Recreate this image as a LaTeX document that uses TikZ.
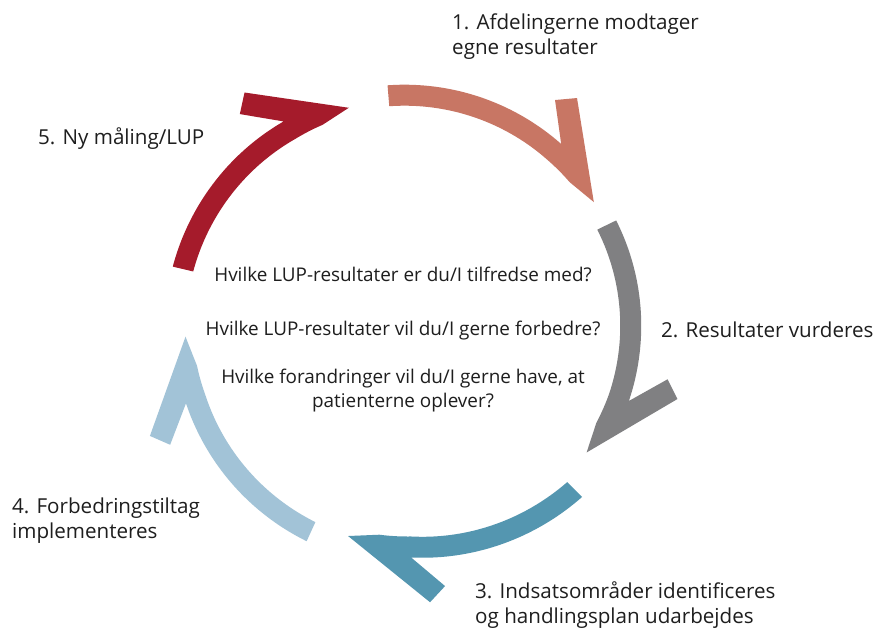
\documentclass[tikz,border=0pt]{standalone}
\usepackage{fontspec}
\setmainfont{Open Sans}
\definecolor{cA}{RGB}{200,118,100}
\definecolor{cB}{RGB}{128,128,130}
\definecolor{cC}{RGB}{84,150,176}
\definecolor{cD}{RGB}{162,195,215}
\definecolor{cE}{RGB}{165,27,43}
\definecolor{txt}{RGB}{30,30,30}
% #1 colour, #2 start angle, #3 tip angle, #4 centre-line radius at the start
\newcommand{\cycarrow}[4]{%
  \pgfmathsetmacro\aN{#3+16.4}%
  \pgfmathsetmacro\aI{#3+8}%
  \pgfmathsetmacro\aBa{#3+23.6}%
  \pgfmathsetmacro\aBb{#3+20.1}%
  \fill[#1] plot[domain=#2:\aN, samples=50] (\x:{225+(#4-225)*max(0,(\x-\aN)/(#2-\aN))+10.5})
    -- (\aBa:266.8) -- (\aBb:281.2) -- (#3:222)
    -- plot[domain=\aI:#2, samples=50] (\x:{225+(#4-225)*max(0,(\x-\aN)/(#2-\aN))-10.5}) -- cycle;
}
\tikzset{
  lbl/.style={anchor=base west, inner sep=0pt, text=txt, font=\fontsize{20.6}{25}\selectfont},
  quest/.style={anchor=base, inner sep=0pt, text=txt, font=\fontsize{18.9}{24}\selectfont},
}
\begin{document}
\begin{tikzpicture}[x=1pt,y=1pt]
\path[use as bounding box, fill=white] (0,0) rectangle (877,-631);
\begin{scope}[shift={(407,-322)}]
  \cycarrow{cA}{94.7}{32.7}{227}
  \cycarrow{cB}{25.9}{-36}{222}
  \cycarrow{cC}{-45}{-105.4}{237}
  \cycarrow{cD}{-114.6}{-176.2}{230.6}
  \cycarrow{cE}{166.7}{105.2}{230.2}
\end{scope}
\node[lbl] (l1) at (452,-30) {\begin{tabular}[t]{@{}l@{}}1. Afdelingerne modtager\\egne resultater\end{tabular}};
\node[lbl] (l2) at (661,-337) {2. Resultater vurderes};
\node[lbl] (l3) at (475,-598) {\begin{tabular}[t]{@{}l@{}}3. Indsatsområder identificeres\\og handlingsplan udarbejdes\end{tabular}};
\node[lbl] (l4) at (12,-513) {\begin{tabular}[t]{@{}l@{}}4. Forbedringstiltag\\implementeres\end{tabular}};
\node[lbl] (l5) at (38,-145) {5. Ny måling/LUP};
\node[quest] (q1) at (403,-281) {Hvilke LUP-resultater er du/I tilfredse med?};
\node[quest] (q2) at (403,-335) {Hvilke LUP-resultater vil du/I gerne forbedre?};
\node[quest] (q3) at (403,-383) {\begin{tabular}[t]{@{}c@{}}Hvilke forandringer vil du/I gerne have, at\\patienterne oplever?\end{tabular}};
\end{tikzpicture}
\end{document}
